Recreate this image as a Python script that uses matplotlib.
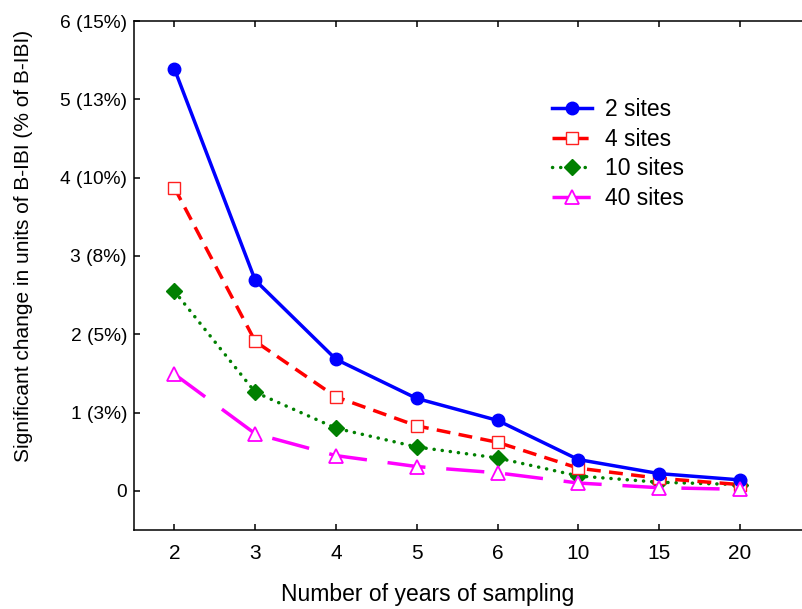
import numpy as np
import matplotlib.pyplot as plt

plt.rcParams['font.family'] = ['Liberation Sans', 'DejaVu Sans']

years = ['2', '3', '4', '5', '6', '10', '15', '20']
sites2 = [5.39, 2.69, 1.68, 1.18, 0.90, 0.40, 0.22, 0.14]
sites4 = [3.87, 1.91, 1.20, 0.83, 0.62, 0.29, 0.16, 0.08]
sites10 = [2.55, 1.26, 0.80, 0.56, 0.42, 0.19, 0.11, 0.08]
sites40 = [1.49, 0.73, 0.45, 0.31, 0.23, 0.10, 0.04, 0.02]
ytick_vals = [0, 1, 2, 3, 4, 5, 6]
ytick_labels = ['0', '1 (3%)', '2 (5%)', '3 (8%)', '4 (10%)', '5 (13%)', '6 (15%)']

x = np.arange(len(years))

fig = plt.figure(figsize=(8.02, 6.09), dpi=100)
# axes runs past the right edge of the picture, like the original
ax = fig.add_axes([134 / 802, 79 / 609, 727 / 802, 509 / 609])

ax.plot(x, sites2, color='#0000ff', lw=2.5, marker='o', ms=9,
        label='2 sites', zorder=5)
ax.plot(x, sites4, color='#ff0000', lw=2.5, dashes=(4, 2.4), marker='s', ms=8.5,
        mfc='white', mec='#ff2020', mew=1.0, label='4 sites', zorder=4)
ax.plot(x, sites10, color='#008000', lw=2.5, dashes=(0.05, 2.3),
        dash_capstyle='round', marker='D', ms=8, label='10 sites', zorder=3)
ax.plot(x, sites40, color='#ff00ff', lw=2.5, dashes=(11, 6), marker='^', ms=10,
        mfc='white', mec='#ff00ff', mew=1.3, label='40 sites', zorder=6)

ax.set_xlim(-0.5, 8.5)
ax.set_ylim(-0.5, 6)
ax.set_xticks(x)
ax.set_xticklabels(years)
ax.set_yticks(ytick_vals)
ax.set_yticklabels(ytick_labels)

ax.tick_params(axis='x', direction='in', top=True, length=4, width=1.1,
               labelsize=15, pad=10)
ax.tick_params(axis='y', direction='in', length=4, width=1.1,
               labelsize=13.8, pad=5)
for s in ax.spines.values():
    s.set_linewidth(1.1)

ax.set_xlabel('Number of years of sampling', fontsize=16.5)
ax.xaxis.set_label_coords(0.404, -0.104)
ax.set_ylabel('Significant change in units of B-IBI (% of B-IBI)', fontsize=15)
ax.yaxis.set_label_coords(-0.139, 0.558)

fig.legend(loc='upper left', bbox_to_anchor=(552 / 802, 1 - 98 / 609),
           frameon=False, fontsize=16.5, handlelength=1.75, handletextpad=0.55,
           labelspacing=0.29, borderpad=0, borderaxespad=0)

plt.savefig('out.png', dpi=100)
